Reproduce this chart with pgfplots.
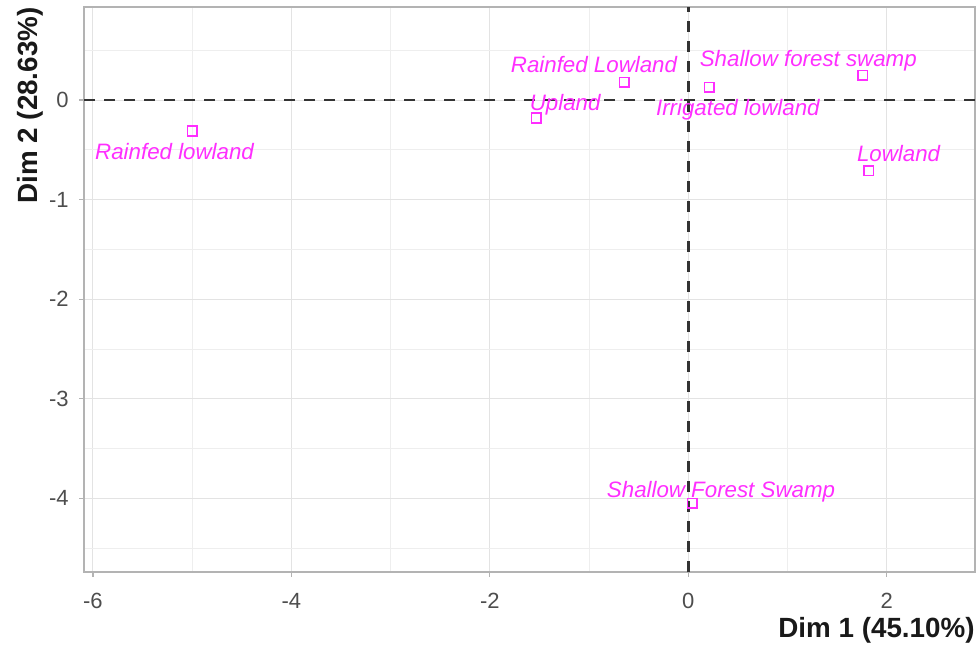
\documentclass[border=0pt]{standalone}
\usepackage{pgfplots}
\pgfplotsset{compat=1.18}
\usepackage{fontspec}
\setmainfont{Liberation Sans}
\definecolor{gridmaj}{HTML}{E3E3E3}
\definecolor{gridmin}{HTML}{EEEEEE}
\definecolor{bordercol}{HTML}{B3B3B3}
\definecolor{tickcol}{HTML}{4D4D4D}
\definecolor{ptcol}{HTML}{FF2EFF}
\definecolor{dashcol}{HTML}{333333}
\pgfplotstableread{
x y label
-5.177 -0.593 {Rainfed lowland}
-1.24 -0.100 {Upland}
-0.95 0.281 {Rainfed Lowland}
1.21 0.342 {Shallow forest swamp}
0.50 -0.151 {Irrigated lowland}
2.12 -0.613 {Lowland}
0.33 -3.99 {Shallow Forest Swamp}
}\labeltab
\pgfplotstableread{
x y
-5.00 -0.31
-1.53 -0.18
-0.645 0.18
1.76 0.25
0.21 0.13
1.82 -0.71
0.04 -4.05
}\pointtab
\begin{document}
\begin{tikzpicture}
\begin{axis}[
  scale only axis, width=445.5bp, height=282.5bp,
  xmin=-6.09, xmax=2.89, ymin=-4.74, ymax=0.935,
  xtick={-6,-4,-2,0,2}, xticklabels={-6,-4,-2,0,2},
  ytick={-4,-3,-2,-1,0}, yticklabels={-4,-3,-2,-1,0},
  minor xtick={-5,-3,-1,1}, minor ytick={-4.5,-3.5,-2.5,-1.5,-0.5,0.5},
  grid=both,
  major grid style={draw=gridmaj, line width=0.55bp},
  minor grid style={draw=gridmin, line width=0.4bp},
  axis line style={draw=bordercol, line width=0.6bp},
  tick style={draw=bordercol, line width=0.6bp},
  major tick length=2.3bp, minor tick length=0pt, tick align=outside,
  xtick pos=bottom, ytick pos=left,
  ticklabel style={font=\fontsize{11bp}{13bp}\selectfont, text=tickcol, inner sep=0pt},
  xticklabel style={anchor=north}, yticklabel style={anchor=east},
  xticklabel shift=8.2bp, yticklabel shift=5.2bp,
  xlabel={Dim 1 (45.10\%)}, ylabel={Dim 2 (28.63\%)},
  xlabel style={at={(rel axis cs:1,0)}, anchor=base east, yshift=-32.5bp, inner sep=0pt,
    font=\fontsize{13.9bp}{16bp}\selectfont\bfseries, text=black!90},
  ylabel style={at={([xshift=-23.5bp]rel axis cs:0,1)}, rotate=0, anchor=base east, inner sep=0pt,
    font=\fontsize{13.9bp}{16bp}\selectfont\bfseries, text=black!90},
  clip=false,
]
\addplot[draw=dashcol, line width=1.3bp, dash pattern=on 5.6bp off 4.4bp] coordinates {(-6.09,0) (2.89,0)};
\addplot[draw=dashcol, line width=1.3bp, dash pattern=on 5.6bp off 4.4bp] coordinates {(0,-4.74) (0,0.935)};
\addplot[only marks, mark=square, mark size=2.4bp, mark options={draw=ptcol, line width=0.8bp, fill=none}] table[x=x,y=y] {\pointtab};
\addplot[draw=none, mark=none, nodes near coords, point meta=explicit symbolic,
  every node near coord/.append style={anchor=base, inner sep=0pt,
    font=\fontsize{11.15bp}{13bp}\selectfont\itshape, text=ptcol}]
  table[x=x,y=y,meta=label] {\labeltab};
\path (rel axis cs:0,0) coordinate (p00) (rel axis cs:1,1) coordinate (p11);
\end{axis}
\pgfresetboundingbox
\path[use as bounding box] ([xshift=-42bp,yshift=-37bp]p00) rectangle ([xshift=2bp,yshift=3.5bp]p11);
\end{tikzpicture}
\end{document}
